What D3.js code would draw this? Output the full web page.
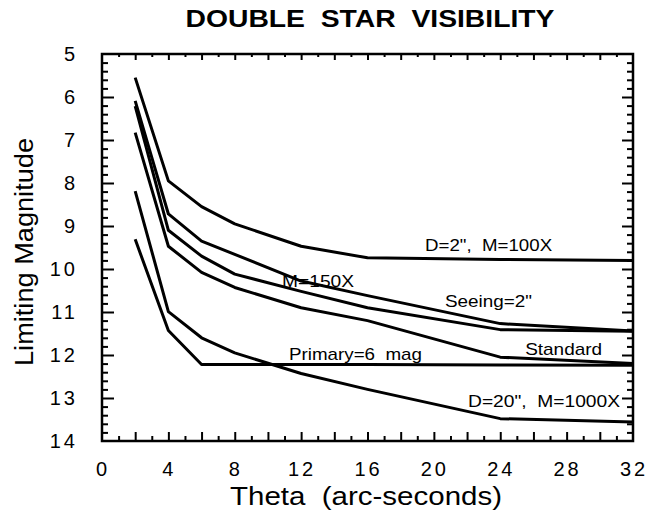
<!DOCTYPE html>
<html>
<head>
<meta charset="utf-8">
<script src="https://cdn.jsdelivr.net/npm/d3@7"></script>
<style>
  body { margin: 0; background: #fff; }
  svg text { font-family: "Liberation Sans", Arial, Helvetica, sans-serif; fill: #000; white-space: pre; }
</style>
</head>
<body>
<div id="chart"></div>
<script>
// theta values where the curves bend (arc-seconds)
const thetas = [2, 4, 6, 8, 12, 16, 24, 32];

// limiting magnitude for each case
const magD2 = [5.55, 7.95, 8.55, 8.95, 9.47, 9.74, 9.78, 9.8];
const magM150 = [6.09, 8.72, 9.35, 9.66, 10.28, 10.62, 11.27, 11.44];
const magSeeing = [6.21, 9.1, 9.7, 10.12, 10.52, 10.9, 11.41, 11.45];
const magStandard = [6.83, 9.47, 10.08, 10.43, 10.9, 11.2, 12.05, 12.2];
const magPrimary = [9.31, 11.43, 12.22, 12.22, 12.22, 12.22, 12.23, 12.24];
const magD20 = [8.19, 10.99, 11.6, 11.95, 12.43, 12.8, 13.48, 13.56];

const xTickLabels = [0, 4, 8, 12, 16, 20, 24, 28, 32];
const yTickLabels = [5, 6, 7, 8, 9, 10, 11, 12, 13, 14];

const curveLabels = ['D=2",  M=100X', 'M=150X', 'Seeing=2"', 'Standard', 'Primary=6  mag', 'D=20",  M=1000X'];

const width = 666, height = 514;
const svg = d3.select("#chart").append("svg")
    .attr("width", width)
    .attr("height", height);

const x = d3.scaleLinear().domain([0, 32]).range([102, 633]);
const y = d3.scaleLinear().domain([5, 14]).range([54, 441]);

// title
svg.append("text")
    .attr("x", 370)
    .attr("y", 27)
    .attr("text-anchor", "middle")
    .attr("font-size", 23)
    .attr("font-weight", "bold")
    .attr("textLength", 369)
    .attr("lengthAdjust", "spacingAndGlyphs")
    .text("DOUBLE  STAR  VISIBILITY");

// ticks on all four sides, pointing inwards
const xMinor = d3.range(1, 32, 2);
const xMajor = d3.range(2, 32, 2);
const yMinor = d3.range(5, 14, 0.2).filter(v => Math.abs(v - Math.round(v)) > 0.01);
const yMajor = d3.range(6, 14);

function addAxis(axis, tx, ty) {
    const g = svg.append("g")
        .attr("transform", `translate(${tx},${ty})`)
        .call(axis.tickFormat(""));
    g.select(".domain").remove();
    g.selectAll(".tick line").attr("stroke", "#000").attr("stroke-width", 2);
}

addAxis(d3.axisBottom(x).tickValues(xMinor).tickSizeInner(-5).tickSizeOuter(0), 0, 441);
addAxis(d3.axisBottom(x).tickValues(xMajor).tickSizeInner(-9).tickSizeOuter(0), 0, 441);
addAxis(d3.axisTop(x).tickValues(xMinor).tickSizeInner(-3).tickSizeOuter(0), 0, 54);
addAxis(d3.axisTop(x).tickValues(xMajor).tickSizeInner(-6).tickSizeOuter(0), 0, 54);
addAxis(d3.axisLeft(y).tickValues(yMinor).tickSizeInner(-6).tickSizeOuter(0), 102, 0);
addAxis(d3.axisLeft(y).tickValues(yMajor).tickSizeInner(-12).tickSizeOuter(0), 102, 0);
addAxis(d3.axisRight(y).tickValues(yMinor).tickSizeInner(-6).tickSizeOuter(0), 633, 0);
addAxis(d3.axisRight(y).tickValues(yMajor).tickSizeInner(-11).tickSizeOuter(0), 633, 0);

// frame
svg.append("rect")
    .attr("x", x(0))
    .attr("y", y(5))
    .attr("width", x(32) - x(0))
    .attr("height", y(14) - y(5))
    .attr("fill", "none")
    .attr("stroke", "#000")
    .attr("stroke-width", 2.5);

// tick labels
svg.selectAll(".xlab")
    .data(xTickLabels)
    .join("text")
    .attr("class", "xlab")
    .attr("x", d => x(d) + 1)
    .attr("y", 476)
    .attr("text-anchor", "middle")
    .attr("font-size", 20)
    .attr("letter-spacing", 3)
    .text(d => d);

svg.selectAll(".ylab")
    .data(yTickLabels)
    .join("text")
    .attr("class", "ylab")
    .attr("x", 78)
    .attr("y", d => y(d))
    .attr("dy", "0.35em")
    .attr("text-anchor", "end")
    .attr("font-size", 20)
    .attr("letter-spacing", 3)
    .text(d => d);

// axis titles
svg.append("text")
    .attr("x", 366)
    .attr("y", 505)
    .attr("text-anchor", "middle")
    .attr("font-size", 26)
    .attr("textLength", 272)
    .attr("lengthAdjust", "spacingAndGlyphs")
    .text("Theta  (arc-seconds)");

svg.append("text")
    .attr("transform", "translate(33,252) rotate(-90)")
    .attr("text-anchor", "middle")
    .attr("font-size", 26)
    .attr("textLength", 228)
    .attr("lengthAdjust", "spacingAndGlyphs")
    .text("Limiting Magnitude");

// curves
const series = [magD2, magM150, magSeeing, magStandard, magPrimary, magD20];
const line = d3.line()
    .x((d, i) => x(thetas[i]))
    .y(d => y(d));

svg.selectAll(".curve")
    .data(series)
    .join("path")
    .attr("class", "curve")
    .attr("d", line)
    .attr("fill", "none")
    .attr("stroke", "#000")
    .attr("stroke-width", 3)
    .attr("stroke-linejoin", "round");

// curve labels: left end (theta), baseline (mag), text width in px
const labelPlace = [
    [19.47, 9.57, 127],
    [10.85, 10.41, 72],
    [20.67, 10.88, 87],
    [25.5, 12.0, 77],
    [11.27, 12.12, 133],
    [22.06, 13.2, 152]
];

svg.selectAll(".clab")
    .data(curveLabels)
    .join("text")
    .attr("class", "clab")
    .attr("x", (d, i) => x(labelPlace[i][0]))
    .attr("y", (d, i) => y(labelPlace[i][1]))
    .attr("font-size", 17)
    .attr("textLength", (d, i) => labelPlace[i][2])
    .attr("lengthAdjust", "spacingAndGlyphs")
    .text(d => d);
</script>
</body>
</html>
